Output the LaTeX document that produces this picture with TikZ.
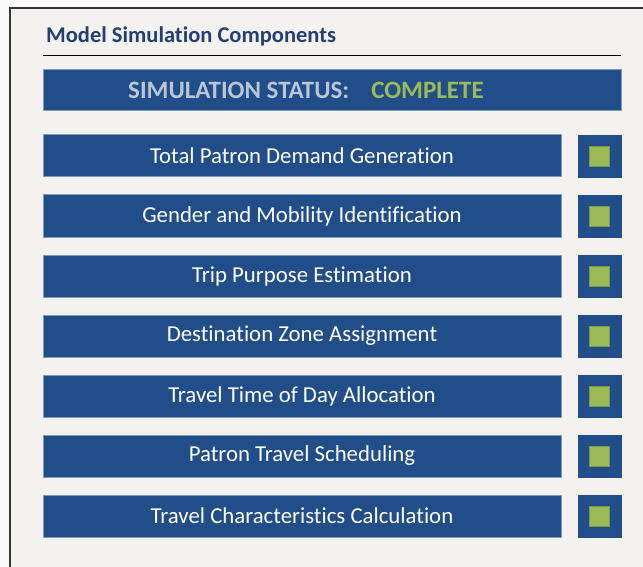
\documentclass[tikz,border=0pt]{standalone}
\usepackage{fontspec}
\setmainfont[Ligatures=CommonOff]{Carlito}
\definecolor{panelbg}{HTML}{F3F2EE}
\definecolor{outerbg}{HTML}{FAFAFA}
\definecolor{barblue}{HTML}{214D88}
\definecolor{baredge}{HTML}{7F9CC0}
\definecolor{titleblue}{HTML}{243F73}
\definecolor{statgrey}{HTML}{B9C6D8}
\definecolor{okgreen}{HTML}{9BBB59}
\begin{document}
\begin{tikzpicture}[x=1pt,y=-1pt,
  stepbox/.style={draw=baredge, line width=1pt, fill=barblue, minimum width=518pt, minimum height=42pt, inner sep=0pt, text=white, font=\fontsize{22.8}{24}\selectfont},
  flagbox/.style={draw=barblue, fill=barblue, minimum width=43pt, minimum height=42pt, inner sep=0pt},
  flagdot/.style={fill=okgreen, draw=okgreen!80!black, line width=0.4pt, minimum size=20pt, inner sep=0pt}]
\useasboundingbox (0,0) rectangle (643,567);
\fill[outerbg] (0,0) rectangle (643,567);
\fill[panelbg] (10,8) rectangle (643,567);
\draw[black!80, line width=1.6pt] (10,567) -- (10,8) -- (643,8);
\node[anchor=west, text=titleblue, font=\fontsize{22.5}{24}\selectfont\bfseries, inner sep=0pt] (title) at (46,36) {Model Simulation Components};
\coordinate (ulA) at (43,56);
\coordinate (ulB) at (621,56);
\draw[black, line width=1pt] (ulA) -- (ulB);
\node[draw=baredge, line width=1pt, fill=barblue, minimum width=578pt, minimum height=41pt, inner sep=0pt, anchor=north west] (status) at (43,69) {};
\node[anchor=west, inner sep=0pt, font=\fontsize{25}{26}\selectfont\bfseries] (stattxt) at (128,90) {\textcolor{statgrey}{SIMULATION STATUS:}\hspace{22pt}\textcolor{okgreen}{COMPLETE}};
\foreach \i/\t in {1/Total Patron Demand Generation,
                   2/Gender and Mobility Identification,
                   3/Trip Purpose Estimation,
                   4/Destination Zone Assignment,
                   5/Travel Time of Day Allocation,
                   6/Patron Travel Scheduling,
                   7/Travel Characteristics Calculation}{
  \node[stepbox] (s\i) at (302, 96+60*\i) {\t};
  \node[flagbox] (f\i) at (599.5, 96+60*\i) {};
  \node[flagdot] (d\i) at (f\i.center) {};
}
\end{tikzpicture}
\end{document}
